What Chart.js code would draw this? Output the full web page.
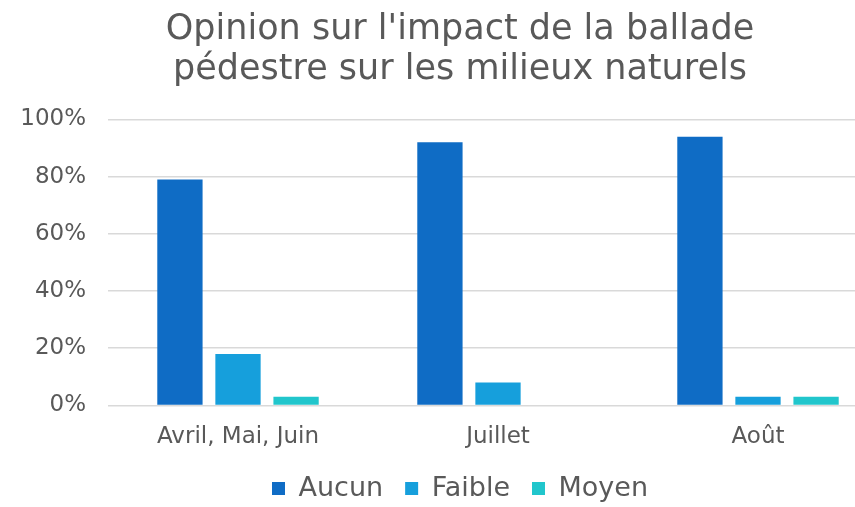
<!DOCTYPE html>
<html>
<head>
<meta charset="utf-8">
<script src="https://cdn.jsdelivr.net/npm/chart.js@4"></script>
<style>
  html, body { margin: 0; padding: 0; background: #fff; overflow: hidden; }
  #wrap { width: 920px; height: 507px; }
</style>
</head>
<body>
<div id="wrap"><canvas id="barChart"></canvas></div>
<script>
var periods = ['Avril, Mai, Juin', 'Juillet', 'Août'];
var aucun = [79, 92, 94];
var faible = [18, 8, 3];
var moyen = [3, 0, 3];

document.addEventListener("DOMContentLoaded", function() {
    Chart.defaults.font.family = "'DejaVu Sans', Verdana, sans-serif";
    Chart.defaults.color = '#595959';

    var ctx = document.getElementById('barChart').getContext('2d');
    new Chart(ctx, {
        type: 'bar',
        data: {
            labels: periods,
            datasets: [
                { label: 'Aucun', data: aucun, backgroundColor: '#0f6cc5' },
                { label: 'Faible', data: faible, backgroundColor: '#169fdc' },
                { label: 'Moyen', data: moyen, backgroundColor: '#21c6cc' }
            ]
        },
        options: {
            responsive: true,
            maintainAspectRatio: false,
            animation: false,
            categoryPercentage: 0.67,
            barPercentage: 0.78,
            layout: { padding: { left: 0, right: 0, top: 7, bottom: -5 } },
            plugins: {
                title: {
                    display: true,
                    text: ["Opinion sur l'impact de la ballade", 'pédestre sur les milieux naturels'],
                    font: { size: 35, weight: 'normal', lineHeight: 1.15 },
                    color: '#595959',
                    padding: { top: 3, bottom: 29 }
                },
                legend: {
                    position: 'bottom',
                    labels: {
                        boxWidth: 13,
                        boxHeight: 13,
                        padding: 22,
                        font: { size: 27 },
                        color: '#595959'
                    }
                },
                tooltip: { enabled: false }
            },
            scales: {
                x: {
                    grid: { display: false },
                    border: { display: false },
                    ticks: { font: { size: 23 }, color: '#595959', padding: 10 },
                    afterFit: function(scale) { scale.height -= 8; }
                },
                y: {
                    min: 0,
                    max: 100,
                    ticks: {
                        stepSize: 20,
                        font: { size: 23 },
                        color: '#595959',
                        padding: 22,
                        callback: function(v) { return v + '%'; }
                    },
                    grid: { color: '#d9d9d9', lineWidth: 1.5, drawTicks: false },
                    border: { display: false },
                    afterFit: function(scale) { scale.width = 108; }
                },
                // empty right-hand margin, the plot runs off the picture edge
                yRight: {
                    position: 'right',
                    grid: { display: false },
                    border: { display: false },
                    ticks: { display: false },
                    afterFit: function(scale) { scale.width = 32; }
                }
            }
        }
    });
});
</script>
</body>
</html>
